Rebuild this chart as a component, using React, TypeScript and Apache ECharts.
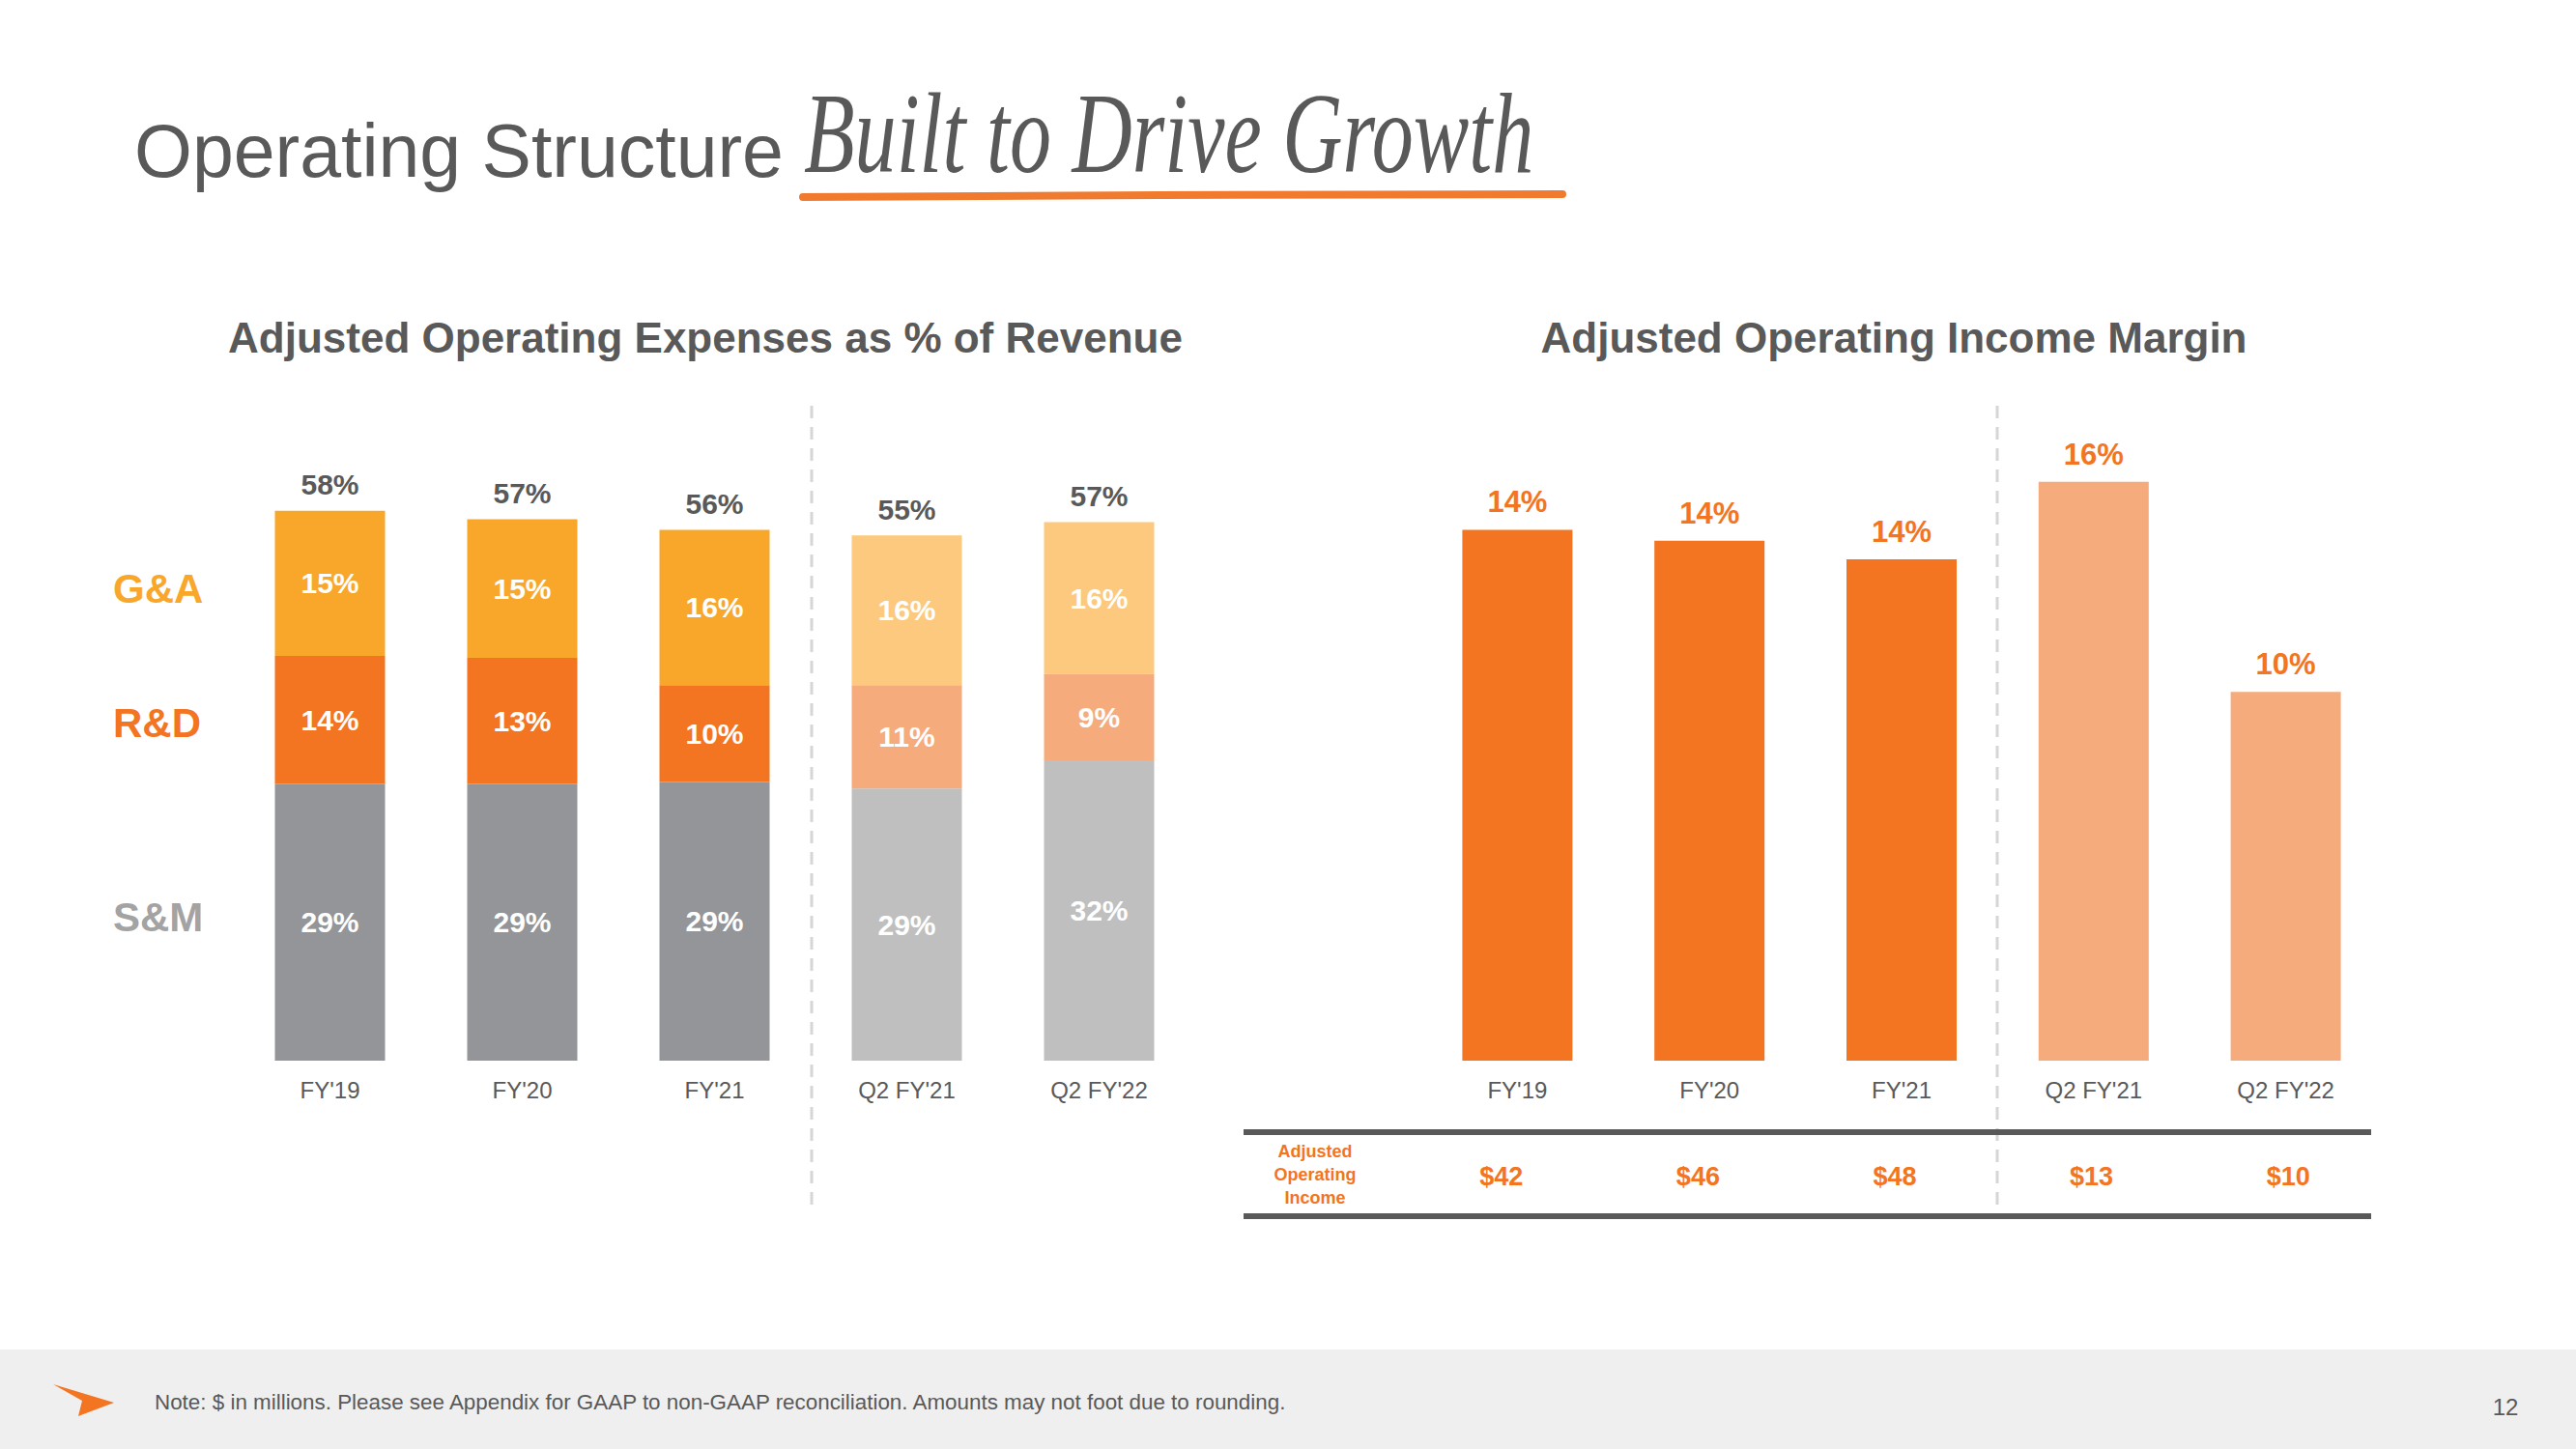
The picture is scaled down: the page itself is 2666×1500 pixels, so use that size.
import React, { useEffect, useRef } from 'react';
import * as echarts from 'echarts';

// ---------- data ----------
const categories = ["FY'19", "FY'20", "FY'21", "Q2 FY'21", "Q2 FY'22"];
const isQuarter = [false, false, false, true, true];

// Adjusted operating expenses as % of revenue (stacked)
const smValues = [29.2, 29.2, 29.4, 28.7, 31.7];
const rdValues = [13.5, 13.3, 10.2, 10.9, 9.1];
const gaValues = [15.3, 14.6, 16.4, 15.8, 16.0];

// Adjusted operating income margin
const marginValues = [14.4, 14.1, 13.6, 15.7, 10.0];

// Adjusted operating income ($M)
const incomeValues = [42, 46, 48, 13, 10];

const FONT = '"Liberation Sans", Arial, Helvetica, sans-serif';
const GRAY_TEXT = '#595959';
const ORANGE = '#F37421';

const smColors = ['#939598', '#BFBFBF'];
const rdColors = ['#F37421', '#F5AB7B'];
const gaColors = ['#F9A72B', '#FCC97E'];
const marginColors = ['#F37421', '#F5AB7B'];

const colored = (vals: number[], colors: string[]) =>
  vals.map((v, i) => ({ value: v, itemStyle: { color: colors[isQuarter[i] ? 1 : 0] } }));

const totals = categories.map((_, i) => +(smValues[i] + rdValues[i] + gaValues[i]).toFixed(1));

const insideLabel = {
  show: true,
  position: 'inside',
  color: '#ffffff',
  fontSize: 30,
  fontWeight: 'bold',
  fontFamily: FONT,
  formatter: (p: any) => Math.round(p.value) + '%',
};

export default function App() {
  const ref = useRef<HTMLDivElement>(null);

  useEffect(() => {
    if (!ref.current) return;
    const chart = echarts.init(ref.current, undefined, { renderer: 'svg' });

    const catAxisLabel = { color: GRAY_TEXT, fontSize: 24, fontFamily: FONT, margin: 16, lineHeight: 28 };

    const option: any = {
      animation: false,
      backgroundColor: '#ffffff',
      textStyle: { fontFamily: FONT },
      grid: [
        { left: 242, top: 411, width: 995, height: 687, containLabel: false, outerBoundsMode: 'none' },
        { left: 1471, top: 411, width: 994, height: 687, containLabel: false, outerBoundsMode: 'none' },
        { left: 1452, top: 1090, width: 1018, height: 8, containLabel: false, outerBoundsMode: 'none' },
      ],
      xAxis: [
        {
          type: 'category', gridIndex: 0, position: 'bottom', data: categories,
          axisLine: { show: false }, axisTick: { show: false }, axisLabel: catAxisLabel,
        },
        {
          type: 'category', gridIndex: 1, position: 'bottom', data: categories,
          axisLine: { show: false }, axisTick: { show: false }, axisLabel: catAxisLabel,
        },
        {
          type: 'category', gridIndex: 2, position: 'bottom',
          data: incomeValues.map((v) => '$' + v),
          axisLine: { show: false }, axisTick: { show: false },
          axisLabel: { color: ORANGE, fontSize: 27, fontWeight: 'bold', fontFamily: FONT, margin: 105, lineHeight: 30 },
        },
      ],
      yAxis: [
        { type: 'value', gridIndex: 0, min: 0, max: 70, show: false },
        { type: 'value', gridIndex: 1, min: 0, max: 18, show: false },
        { type: 'value', gridIndex: 2, min: 0, max: 1, show: false },
      ],
      series: [
        {
          name: 'Total', type: 'bar', xAxisIndex: 0, yAxisIndex: 0, barWidth: 114, barGap: '-100%',
          data: totals, z: 1, silent: true,
          itemStyle: { color: 'rgba(0,0,0,0)' },
          label: {
            show: true, position: 'top', distance: 12, color: GRAY_TEXT, fontSize: 30, fontWeight: 'bold',
            fontFamily: FONT, formatter: (p: any) => Math.round(p.value) + '%',
          },
        },
        {
          name: 'S&M', type: 'bar', stack: 'opex', xAxisIndex: 0, yAxisIndex: 0, barWidth: 114, barGap: '-100%',
          data: colored(smValues, smColors), z: 2, label: insideLabel,
        },
        {
          name: 'R&D', type: 'bar', stack: 'opex', xAxisIndex: 0, yAxisIndex: 0, barWidth: 114, barGap: '-100%',
          data: colored(rdValues, rdColors), z: 2, label: insideLabel,
        },
        {
          name: 'G&A', type: 'bar', stack: 'opex', xAxisIndex: 0, yAxisIndex: 0, barWidth: 114, barGap: '-100%',
          data: colored(gaValues, gaColors), z: 2, label: insideLabel,
        },
        {
          name: 'Adjusted Operating Income Margin', type: 'bar', xAxisIndex: 1, yAxisIndex: 1, barWidth: 114,
          data: colored(marginValues, marginColors),
          label: {
            show: true, position: 'top', distance: 13, color: ORANGE, fontSize: 31, fontWeight: 'bold',
            fontFamily: FONT, formatter: (p: any) => Math.round(p.value) + '%',
          },
        },
      ],
      graphic: [
        // footer band
        { type: 'rect', z: -10, shape: { x: 0, y: 1397, width: 2666, height: 103 }, style: { fill: '#EFEFEF' } },
        // logo arrow
        {
          type: 'polygon',
          shape: { points: [[55, 1433], [118, 1452], [81, 1466], [85, 1450]] },
          style: { fill: '#F37421' },
        },
        {
          type: 'text', x: 160, y: 1451,
          style: {
            text: 'Note: $ in millions. Please see Appendix for GAAP to non-GAAP reconciliation. Amounts may not foot due to rounding.',
            fontSize: 22.4, fontFamily: FONT, fill: GRAY_TEXT, align: 'left', verticalAlign: 'middle',
          },
        },
        {
          type: 'text', x: 2593, y: 1456,
          style: { text: '12', fontSize: 24, fontFamily: FONT, fill: GRAY_TEXT, align: 'center', verticalAlign: 'middle' },
        },
        // main title
        {
          type: 'text', x: 139, y: 156,
          style: { text: 'Operating Structure', fontSize: 77, fontFamily: FONT, fill: GRAY_TEXT, align: 'left', verticalAlign: 'middle' },
        },
        {
          type: 'text', x: 832, y: 138, scaleX: 0.73, originX: 0, originY: 0,
          style: {
            text: 'Built to Drive Growth', fontSize: 118, fontStyle: 'italic',
            fontFamily: '"Liberation Serif", "DejaVu Serif", serif', fill: GRAY_TEXT, align: 'left', verticalAlign: 'middle',
          },
        },
        {
          type: 'polyline',
          shape: { points: [[831, 204], [1200, 202], [1617, 201]] },
          style: { stroke: '#F07A2E', lineWidth: 8, lineCap: 'round', fill: 'none' },
        },
        // chart titles
        {
          type: 'text', x: 730, y: 349,
          style: { text: 'Adjusted Operating Expenses as % of Revenue', fontSize: 44, fontWeight: 'bold', fontFamily: FONT, fill: GRAY_TEXT, align: 'center', verticalAlign: 'middle' },
        },
        {
          type: 'text', x: 1960, y: 349,
          style: { text: 'Adjusted Operating Income Margin', fontSize: 44, fontWeight: 'bold', fontFamily: FONT, fill: GRAY_TEXT, align: 'center', verticalAlign: 'middle' },
        },
        // row labels for stacked chart
        {
          type: 'text', x: 117, y: 609,
          style: { text: 'G&A', fontSize: 42, fontWeight: 'bold', fontFamily: FONT, fill: '#F9A72B', align: 'left', verticalAlign: 'middle' },
        },
        {
          type: 'text', x: 117, y: 748,
          style: { text: 'R&D', fontSize: 42, fontWeight: 'bold', fontFamily: FONT, fill: '#F37421', align: 'left', verticalAlign: 'middle' },
        },
        {
          type: 'text', x: 117, y: 949,
          style: { text: 'S&M', fontSize: 42, fontWeight: 'bold', fontFamily: FONT, fill: '#A3A3A3', align: 'left', verticalAlign: 'middle' },
        },
        // dashed separators
        {
          type: 'line', shape: { x1: 840, y1: 420, x2: 840, y2: 1252 },
          style: { stroke: '#D6D6D6', lineWidth: 3, lineDash: [13, 9] },
        },
        {
          type: 'line', shape: { x1: 2067, y1: 420, x2: 2067, y2: 1252 },
          style: { stroke: '#D6D6D6', lineWidth: 3, lineDash: [13, 9] },
        },
        // table rules
        { type: 'rect', shape: { x: 1287, y: 1169, width: 1167, height: 6 }, style: { fill: '#595959' } },
        { type: 'rect', shape: { x: 1287, y: 1256, width: 1167, height: 6 }, style: { fill: '#595959' } },
        {
          type: 'text', x: 1361, y: 1216,
          style: {
            text: 'Adjusted\nOperating\nIncome', fontSize: 18, fontWeight: 'bold', lineHeight: 24,
            fontFamily: FONT, fill: ORANGE, align: 'center', verticalAlign: 'middle',
          },
        },
      ],
    };

    chart.setOption(option);
    return () => chart.dispose();
  }, []);

  return <div ref={ref} style={{ position: 'absolute', left: 0, top: 0, width: 2666, height: 1500 }} />;
}
